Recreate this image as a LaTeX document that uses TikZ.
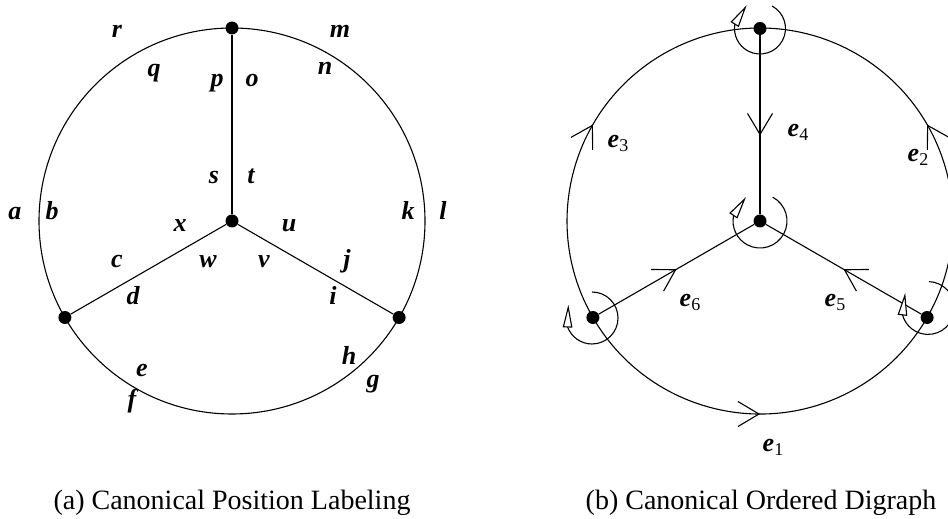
\documentclass[tikz,border=0pt]{standalone}
\usepackage{fontspec}
\setmainfont{Liberation Serif}
\usetikzlibrary{arrows.meta,decorations.markings,calc}
\newcommand\labfont{\fontsize{26}{26}\selectfont\bfseries\itshape}
\newcommand\capfont{\fontsize{28}{28}\selectfont}
\newcommand\esub[1]{\raisebox{-4pt}{\fontsize{18}{18}\selectfont\upshape\mdseries #1}}
\newcommand\rotmark[4]{%
  \draw[rotarc] ($(#1)+(#2:#4)$) arc[start angle=#2,end angle=#3,radius=#4];
  \draw[rottri] ($(#1)+(#3:#4)+(#3-22:4.2)$) -- ($(#1)+(#3:#4)+(#3-112:19.5)$) -- ($(#1)+(#3:#4)+(#3-202:4.2)$) -- cycle;
}
\tikzset{
  dot/.style={circle,fill=black,draw=none,minimum size=13pt,inner sep=0pt},
  edge/.style={line width=1.1pt,black},
  rotarc/.style={line width=1.1pt,black},
  rottri/.style={line width=1.1pt,black,fill=white,line join=miter},
  lab/.style={font=\labfont,inner sep=0pt,anchor=base},
  caplab/.style={font=\capfont,inner sep=0pt,anchor=base},
  midarrow/.style={postaction={decorate},decoration={markings,
     mark=at position #1 with {\arrow{Straight Barb[length=21pt,width=25pt]}}}},
  midarrow/.default=0.5
}
\begin{document}
\begin{tikzpicture}[x=1pt,y=1pt]
\useasboundingbox (0,0) rectangle (948,519);
\clip (0,0) rectangle (948,519);
% ---------- (a) ----------
\coordinate (L0) at (232,298);
\node[dot] (LA) at (232,491) {};
\node[dot] (LB) at (64.9,201.5) {};
\node[dot] (LC) at (399.1,201.5) {};
\node[dot] (LD) at (232,298) {};
\draw[edge] (L0) circle[radius=193];
\draw[edge] (LD) -- (LA);
\draw[edge] (LD) -- (LB);
\draw[edge] (LD) -- (LC);
\node[lab] (lr) at (117,481) {r};
\node[lab] (lm) at (340,481) {m};
\node[lab] (lq) at (154,442) {q};
\node[lab] (ln) at (325,444) {n};
\node[lab] (lp) at (217,432) {p};
\node[lab] (lo) at (252,432) {o};
\node[lab] (ls) at (214,335) {s};
\node[lab] (lt) at (251,335) {t};
\node[lab] (la) at (15,299) {a};
\node[lab] (lb) at (52,299) {b};
\node[lab] (lk) at (408,299) {k};
\node[lab] (ll) at (443,299) {l};
\node[lab] (lx) at (180,287) {x};
\node[lab] (lu) at (289,287) {u};
\node[lab] (lc) at (117,251) {c};
\node[lab] (lw) at (208,251) {w};
\node[lab] (lv) at (264,251) {v};
\node[lab] (lj) at (347,251) {j};
\node[lab] (ld) at (133,214) {d};
\node[lab] (li) at (333,214) {i};
\node[lab] (le) at (142,142) {e};
\node[lab] (lf) at (132,111) {f};
\node[lab] (lh) at (349,154) {h};
\node[lab] (lg) at (373,131) {g};
\node[caplab] (capa) at (232,9) {(a) Canonical Position Labeling};
% ---------- (b) ----------
\coordinate (R0) at (760,298);
\node[dot] (RA) at (760,490.5) {};
\node[dot] (RB) at (592.9,201.5) {};
\node[dot] (RC) at (927.1,201.5) {};
\node[dot] (RD) at (760,298) {};
\draw[edge,midarrow] (RB.center) arc[start angle=210,end angle=330,radius=193];
\draw[edge,midarrow] (RC.center) arc[start angle=-30,end angle=90,radius=193];
\draw[edge,midarrow] (RB.center) arc[start angle=210,end angle=90,radius=193];
\draw[edge,midarrow=0.56] (RA) -- (RD);
\draw[edge,midarrow] (RB) -- (RD);
\draw[edge,midarrow] (RC) -- (RD);
\coordinate (cA) at (760,490.5);
\coordinate (cD) at (760,298);
\coordinate (cB) at (592,201);
\coordinate (cC) at (928,211);
\rotmark{cA}{62}{-190}{25.5}
\rotmark{cD}{62}{-192}{27}
\rotmark{cB}{90}{-160}{26}
\rotmark{cC}{88}{-165}{26.4}
\node[lab] (e4) at (798,382) {e\esub{4}};
\node[lab] (e3) at (618,371) {e\esub{3}};
\node[lab] (e2) at (918,357) {e\esub{2}};
\node[lab] (e1) at (773,67) {e\esub{1}};
\node[lab] (e6) at (690,212) {e\esub{6}};
\node[lab] (e5) at (835,212) {e\esub{5}};
\node[caplab] (capb) at (761,9) {(b) Canonical Ordered Digraph};
\end{tikzpicture}
\end{document}
